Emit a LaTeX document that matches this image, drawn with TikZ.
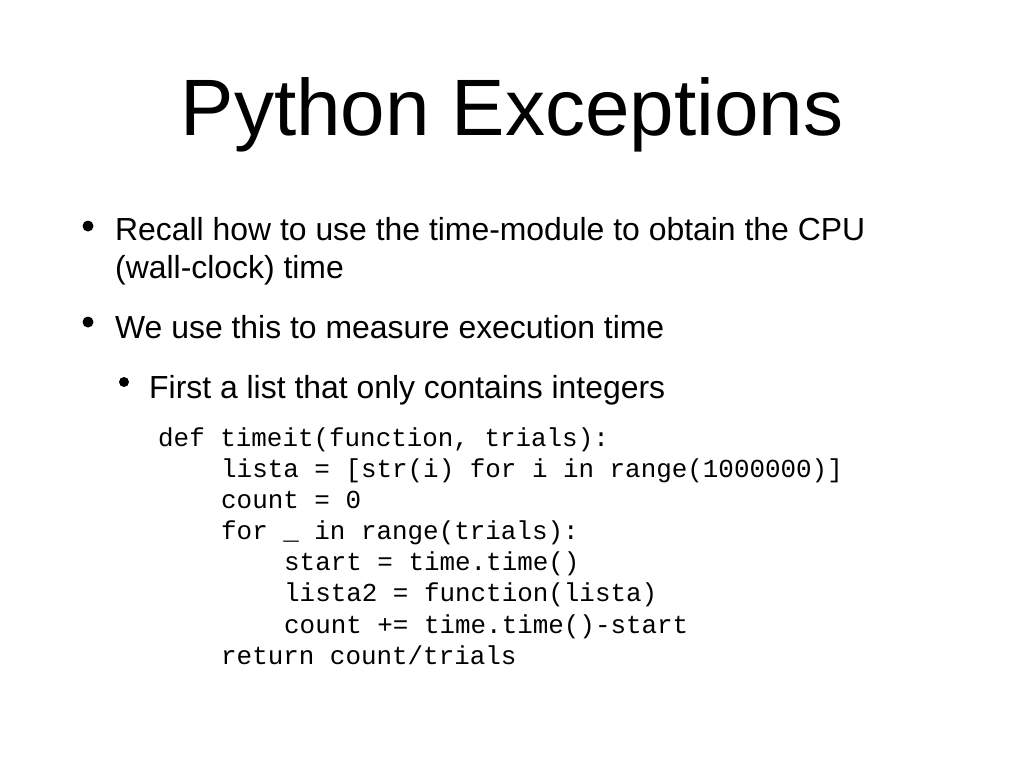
\documentclass[tikz,border=0pt]{standalone}
\usepackage{fontspec}
\setmainfont{Liberation Sans}
\setmonofont{Liberation Mono}
\begin{document}
\begin{tikzpicture}[x=1pt,y=1pt,
  txt/.style={anchor=base west,inner sep=0pt,font=\fontsize{31.9}{36}\selectfont},
  code/.style={anchor=base west,inner sep=0pt,font=\ttfamily\fontsize{25.9}{31}\selectfont},
  dot/.style={circle,fill=black,inner sep=0pt,minimum size=11pt}]
\useasboundingbox[fill=white] (0,0) rectangle (1024,-768);
\node[anchor=base,inner sep=0pt,font=\fontsize{80}{90}\selectfont] (title) at (512,-135) {Python Exceptions};
\node[dot] (b1) at (88,-226) {};
\node[txt] (t1) at (115,-240) {Recall how to use the time-module to obtain the CPU};
\node[txt] (t1b) at (115,-278) {(wall-clock) time};
\node[dot] (b2) at (88,-322) {};
\node[txt] (t2) at (115,-338) {We use this to measure execution time};
\node[dot,minimum size=10pt] (b3) at (124,-382) {};
\node[txt] (t3) at (149,-398) {First a list that only contains integers};
\node[code] (c1) at (158,-446) {def timeit(function, trials):};
\node[code] (c2) at (221,-477) {lista = [str(i) for i in range(1000000)]};
\node[code] (c3) at (221,-508) {count = 0};
\node[code] (c4) at (221,-539) {for \_ in range(trials):};
\node[code] (c5) at (284,-570) {start = time.time()};
\node[code] (c6) at (284,-601) {lista2 = function(lista)};
\node[code] (c7) at (284,-633) {count += time.time()-start};
\node[code] (c8) at (221,-664) {return count/trials};
\end{tikzpicture}
\end{document}
